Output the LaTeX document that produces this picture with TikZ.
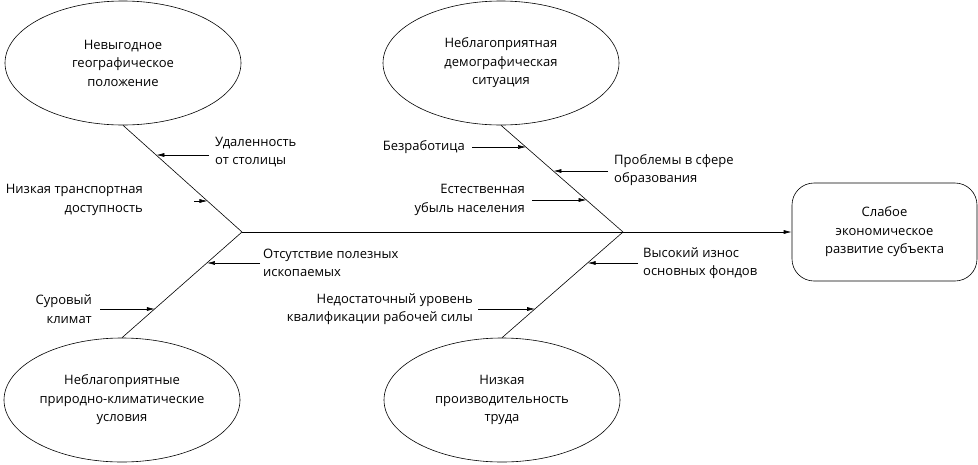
\documentclass[tikz,border=0pt]{standalone}
\usepackage{fontspec}
\setmainfont{Open Sans}
\usetikzlibrary{shapes.geometric,arrows.meta,calc}
\begin{document}
\begin{tikzpicture}[x=1pt,y=-1pt,
  every node/.style={font=\fontsize{13}{18.5}\selectfont},
  cause/.style={draw,ellipse,line width=0.6pt,minimum width=236pt,minimum height=124pt,inner sep=0pt,align=center},
  effect/.style={draw,rounded corners=22pt,line width=0.6pt,minimum width=185pt,minimum height=98pt,inner sep=0pt,align=center},
  lblL/.style={anchor=west,align=left,inner sep=0pt},
  lblR/.style={anchor=east,align=right,inner sep=0pt},
  bone/.style={line width=0.6pt},
  arr/.style={line width=0.6pt,-{Latex[length=8pt,width=4pt]}}]
\useasboundingbox (0,0) rectangle (978,464);
% causes
\node[cause] (e1) at (123,63) {Невыгодное\\географическое\\положение};
\node[cause] (e2) at (501,63) {Неблагоприятная\\демографическая\\ситуация};
\node[cause] (e3) at (122,400) {Неблагоприятные\\природно-климатические\\условия};
\node[cause] (e4) at (502,400) {Низкая\\производительность\\труда};
\node[effect] (fx) at (884.5,232) {Слабое\\экономическое\\развитие субъекта};
\coordinate (v1) at (242,232);
\coordinate (v2) at (623,232);
% bones
\draw[bone] (e1.south) -- (v1);
\draw[bone] (e3.north) -- (v1);
\draw[bone] (e2.south) -- (v2);
\draw[bone] (e4.north) -- (v2);
\draw[arr] (v1) -- (fx.west);
% labels
\node[lblL] (l1) at (215,152) {Удаленность\\от столицы};
\node[lblR] (l2) at (143,200) {Низкая транспортная\\доступность};
\node[lblR] (l3) at (465,147) {Безработица};
\node[lblL] (l4) at (614,170) {Проблемы в сфере\\образования};
\node[lblR] (l5) at (525,200) {Естественная\\убыль населения};
\node[lblL] (l6) at (263,263) {Отсутствие полезных\\ископаемых};
\node[lblR] (l7) at (92,309) {Суровый\\климат};
\node[lblR] (l8) at (473,309) {Недостаточный уровень\\квалификации рабочей силы};
\node[lblL] (l9) at (643,263) {Высокий износ\\основных фондов};
% arrow tails
\coordinate (t1) at (209,155);
\coordinate (t2) at (194,201);
\coordinate (t3) at (472,147);
\coordinate (t4) at (608,171);
\coordinate (t5) at (532,200);
\coordinate (t6) at (260,263);
\coordinate (t7) at (100,309);
\coordinate (t8) at (478,309);
\coordinate (t9) at (638,263);
% arrow tips on bones
\coordinate (h1) at ($(e1.south)!0.280!(v1)$);
\coordinate (h2) at ($(e1.south)!0.710!(v1)$);
\coordinate (h3) at ($(e2.south)!0.206!(v2)$);
\coordinate (h4) at ($(e2.south)!0.430!(v2)$);
\coordinate (h5) at ($(e2.south)!0.701!(v2)$);
\coordinate (h6) at ($(e3.north)!0.708!(v1)$);
\coordinate (h7) at ($(e3.north)!0.274!(v1)$);
\coordinate (h8) at ($(e4.north)!0.274!(v2)$);
\coordinate (h9) at ($(e4.north)!0.708!(v2)$);
\draw[arr] (t1) -- (t1 -| h1);
\draw[arr] (t2) -- (t2 -| h2);
\draw[arr] (t3) -- (t3 -| h3);
\draw[arr] (t4) -- (t4 -| h4);
\draw[arr] (t5) -- (t5 -| h5);
\draw[arr] (t6) -- (t6 -| h6);
\draw[arr] (t7) -- (t7 -| h7);
\draw[arr] (t8) -- (t8 -| h8);
\draw[arr] (t9) -- (t9 -| h9);
\end{tikzpicture}
\end{document}
